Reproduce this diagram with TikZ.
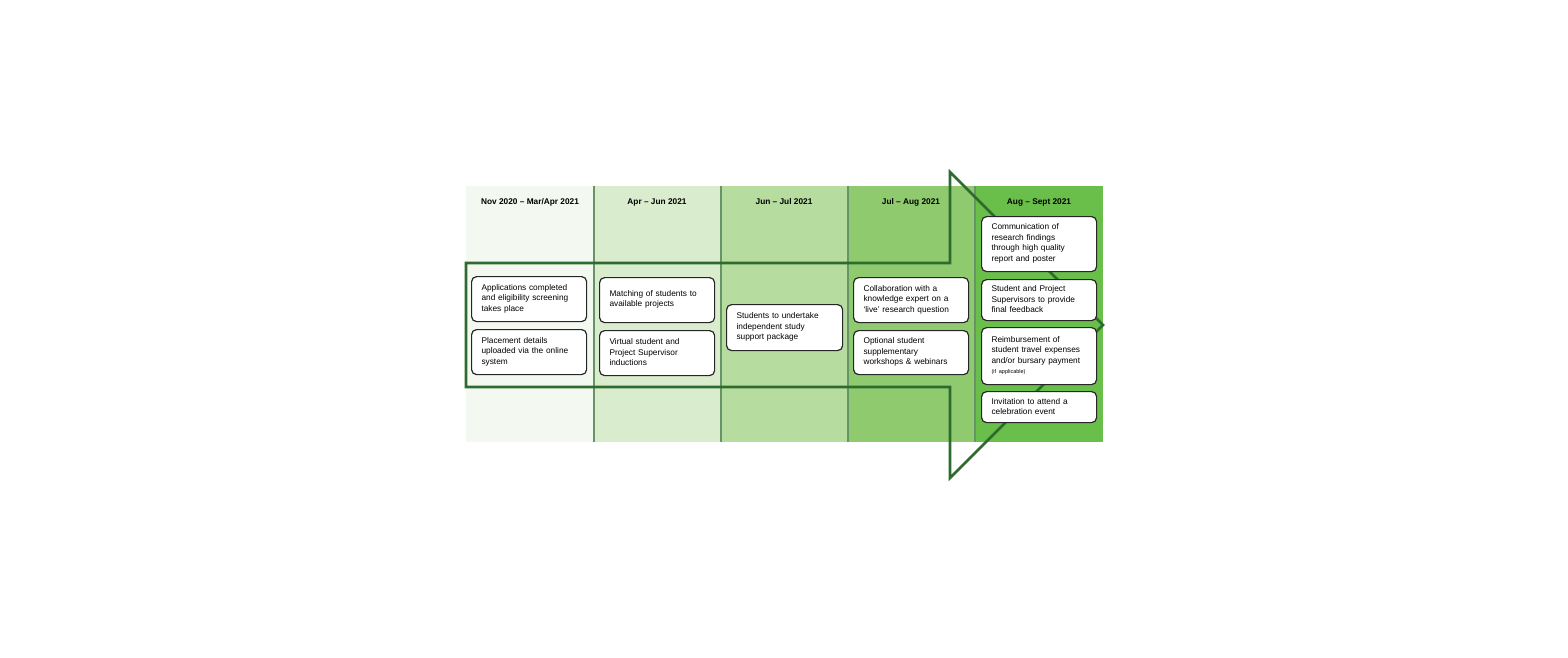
\documentclass[tikz,border=0pt]{standalone}
\usepackage{fontspec}
\setmainfont{Liberation Sans}
\begin{document}
\begin{tikzpicture}[x=1pt,y=-1pt,
  box/.style={draw=black!85,line width=1.2pt,rounded corners=5pt,fill=white,anchor=north west,align=left,inner sep=0pt,font=\fontsize{8.3}{10.5}\selectfont},
  head/.style={font=\bfseries\fontsize{8.3}{10}\selectfont},
  div/.style={draw=black!70!green!60,line width=1.2pt}]
\useasboundingbox (0,0) rectangle (1568,658);
\definecolor{c1}{HTML}{F3F9F0}\definecolor{c2}{HTML}{DAECCE}
\definecolor{c3}{HTML}{B6DCA0}\definecolor{c4}{HTML}{8FCB6E}
\definecolor{c5}{HTML}{6ABF4B}\definecolor{arr}{HTML}{2E6B2E}
\fill[c1] (466,186) rectangle (594,442);
\fill[c2] (594,186) rectangle (721,442);
\fill[c3] (721,186) rectangle (848,442);
\fill[c4] (848,186) rectangle (975,442);
\fill[c5] (975,186) rectangle (1103,442);
\foreach \x in {594,721,848,975} \draw[div] (\x,186) -- (\x,442);
\draw[arr,line width=2.6pt,line join=miter] (466,263) -- (950,263) -- (950,172) -- (1103,325) -- (950,478) -- (950,387) -- (466,387) -- cycle;
\node[head] (h1) at (530,202) {Nov 2020 – Mar/Apr 2021};
\node[head] (h2) at (657,202) {Apr – Jun 2021};
\node[head] (h3) at (784,202) {Jun – Jul 2021};
\node[head] (h4) at (911,202) {Jul – Aug 2021};
\node[head] (h5) at (1039,202) {Aug – Sept 2021};
\newcommand\bx[6]{\node[box,minimum width=#3-#2,minimum height=#5-#4,text width=#3-#2-16,inner xsep=8pt] (#1) at (#2,#4) {\vphantom{}};
  \node[anchor=west,align=left,font=\fontsize{8.3}{10.5}\selectfont,text width=#3-#2-14] at (#2+7,#4/2+#5/2) {#6};}
\bx{a1}{471}{586}{276}{321}{Applications completed\\and eligibility screening\\takes place}
\bx{a2}{471}{586}{329}{374}{Placement details\\uploaded via the online\\system}
\bx{b1}{599}{714}{277}{322}{Matching of students to\\available projects}
\bx{b2}{599}{714}{330}{375}{Virtual student and\\Project Supervisor\\inductions}
\bx{c1}{726}{842}{304}{350}{Students to undertake\\independent study\\support package}
\bx{d1}{853}{968}{277}{322}{Collaboration with a\\knowledge expert on a\\‘live’ research question}
\bx{d2}{853}{968}{330}{374}{Optional student\\supplementary\\workshops \& webinars}
\bx{e1}{981}{1096}{216}{271}{Communication of\\research findings\\through high quality\\report and poster}
\bx{e2}{981}{1096}{279}{320}{Student and Project\\Supervisors to provide\\final feedback}
\bx{e3}{981}{1096}{327}{384}{Reimbursement of\\student travel expenses\\and/or bursary payment\\{\fontsize{5.5}{7}\selectfont (if applicable)}}
\bx{e4}{981}{1096}{391}{422}{Invitation to attend a\\celebration event}
\end{tikzpicture}
\end{document}
